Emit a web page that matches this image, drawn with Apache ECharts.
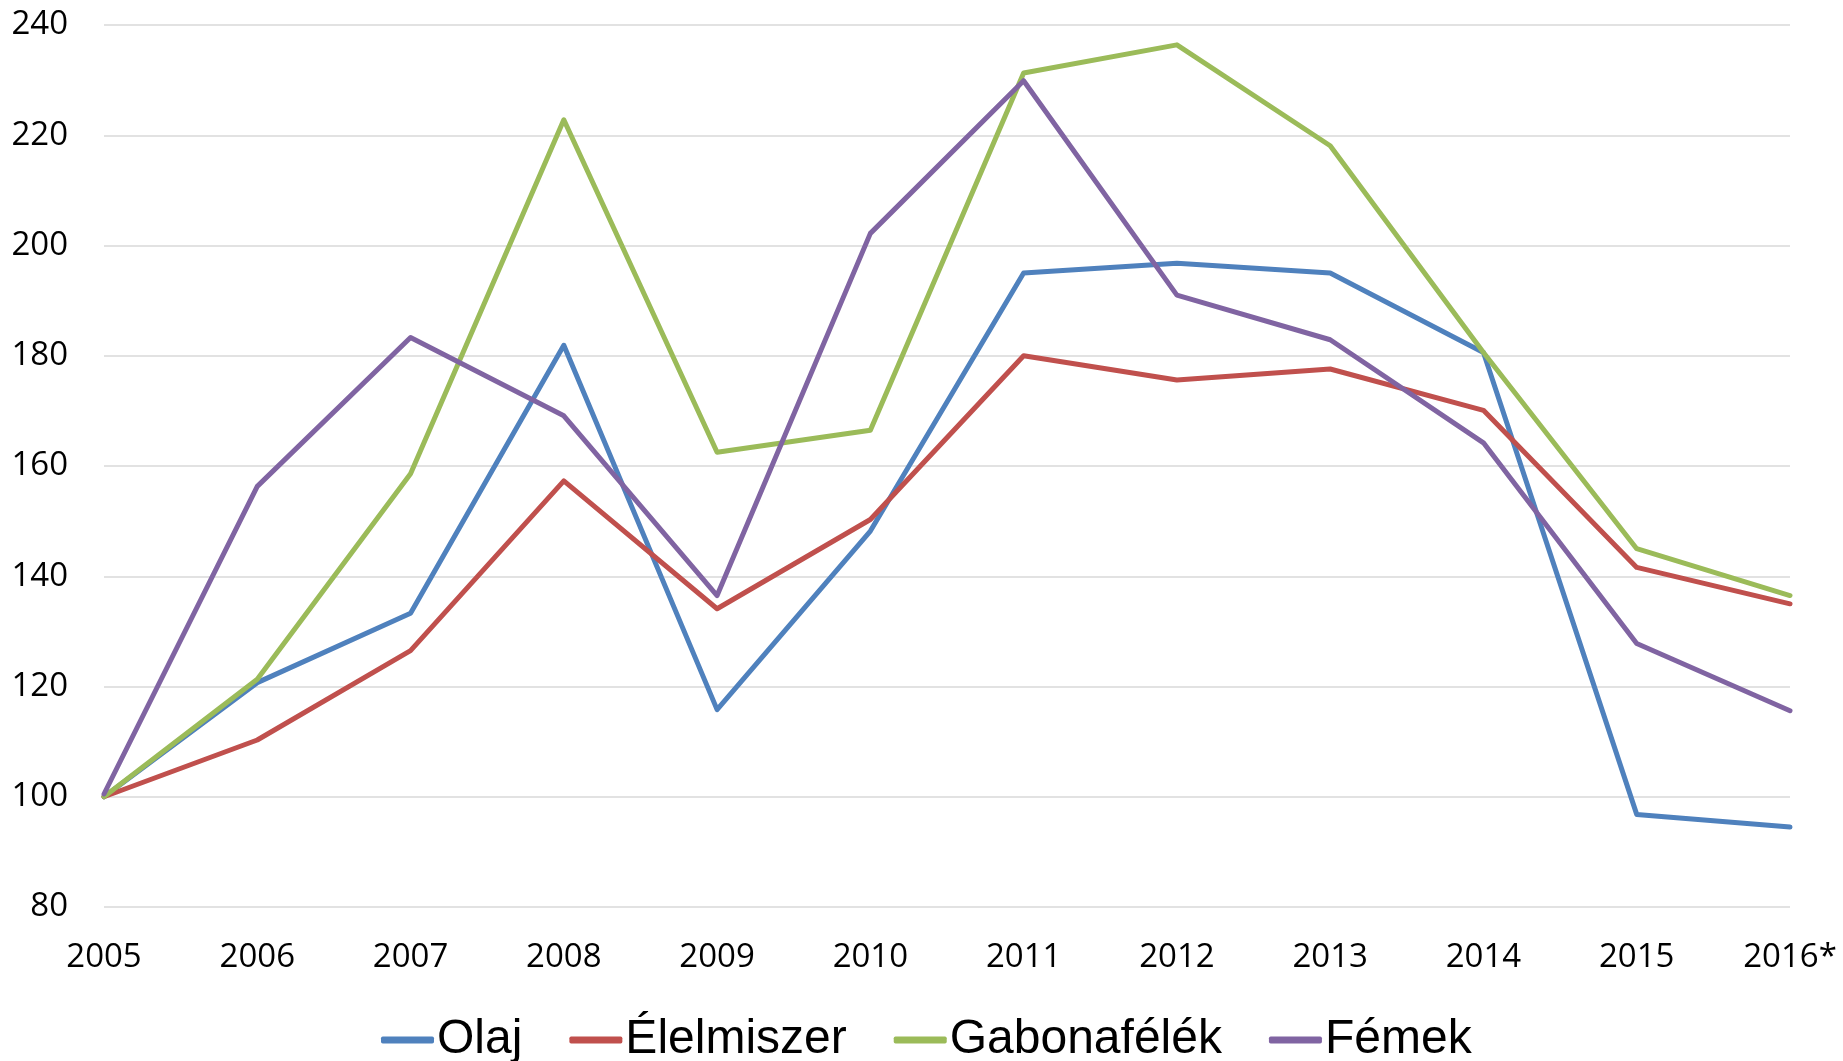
<!DOCTYPE html>
<html>
<head>
<meta charset="utf-8">
<script src="https://cdn.jsdelivr.net/npm/echarts@6/dist/echarts.min.js"></script>
<style>
  html, body { margin: 0; padding: 0; background: #fff; }
  #chart { width: 1843px; height: 1061px; }
</style>
</head>
<body>
<div id="chart"></div>
<script>
// values
var years = ['2005', '2006', '2007', '2008', '2009', '2010', '2011', '2012', '2013', '2014', '2015', '2016*'];
var olaj = [100, 120.7, 133.3, 181.9, 115.8, 148.2, 195.0, 196.8, 195.0, 180.6, 96.8, 94.5];
var elelmiszer = [100, 110.3, 126.5, 157.3, 134.1, 150.3, 180.0, 175.6, 177.6, 170.1, 141.6, 135.0];
var gabona = [100, 121.3, 158.6, 222.8, 162.5, 166.5, 231.3, 236.4, 218.1, 180.6, 145.0, 136.5];
var femek = [100.5, 156.3, 183.3, 169.1, 136.5, 202.2, 229.9, 191.0, 182.9, 164.2, 127.8, 115.6];
var seriesNames = ['Olaj', 'Élelmiszer', 'Gabonafélék', 'Fémek'];
var colors = ['#4F81BD', '#C0504D', '#9BBB59', '#8064A2'];

var chart = document.getElementById('chart');
var myChart = echarts.init(chart);

function make_series(name, data, color) {
    return {
        name: name,
        type: 'line',
        data: data,
        symbol: 'none',
        smooth: false,
        lineStyle: { color: color, width: 5, cap: 'round', join: 'round' },
        itemStyle: { color: color }
    };
}

var option = {
    animation: false,
    backgroundColor: '#fff',
    color: colors,
    grid: { left: 104, right: 53, top: 25, bottom: 154, containLabel: false },
    legend: {
        data: seriesNames,
        left: 381,
        top: 1016,
        padding: 0,
        icon: 'roundRect',
        itemWidth: 53,
        itemHeight: 7,
        itemGap: 47,
        textStyle: { fontFamily: 'Liberation Sans', fontSize: 48, color: '#000', padding: [0, 0, 0, -2] }
    },
    xAxis: {
        type: 'category',
        boundaryGap: false,
        data: years,
        axisLine: { show: false },
        axisTick: { show: false },
        axisLabel: { fontFamily: 'Open Sans', fontSize: 33, color: '#000', margin: 34 }
    },
    yAxis: {
        type: 'value',
        min: 80,
        max: 240,
        interval: 20,
        axisLine: { show: false },
        axisTick: { show: false },
        splitLine: { lineStyle: { color: '#D9D9D9', width: 1.5 } },
        axisLabel: { fontFamily: 'Open Sans', fontSize: 33, color: '#000', margin: 36 }
    },
    series: [
        make_series(seriesNames[0], olaj, colors[0]),
        make_series(seriesNames[1], elelmiszer, colors[1]),
        make_series(seriesNames[2], gabona, colors[2]),
        make_series(seriesNames[3], femek, colors[3])
    ]
};

myChart.setOption(option);
</script>
</body>
</html>
